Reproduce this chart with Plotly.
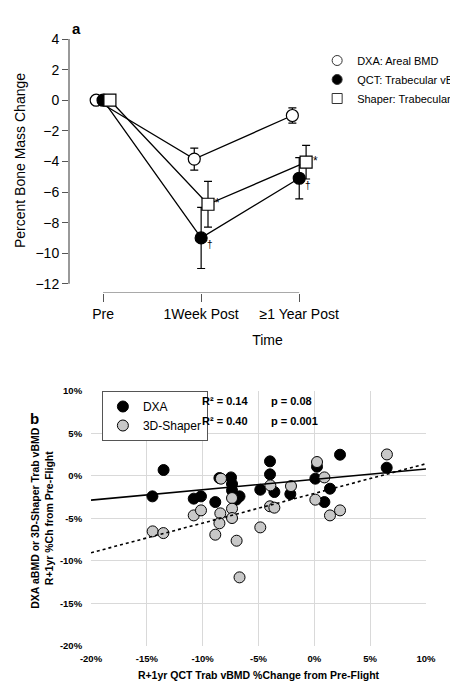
import numpy as np
import plotly.graph_objects as go

# ---- Panel a data ----
times = ["Pre", "1Week Post", "≥1 Year Post"]
dxa_mean = [0, -3.85, -1.0]
dxa_err = [0, 0.72, 0.5]
qct_mean = [0, -9.0, -5.1]
qct_err = [0, 2.0, 1.35]
shp_mean = [0, -6.8, -4.05]
shp_err = [0, 1.5, 1.1]
qct_marks = ["", "†", "†"]
shp_marks = ["", "*", "*"]

# ---- Panel b data ----
qct_x_dxa = [-14.5, -13.5, -10.8, -10.15, -8.87, -8.5, -7.46, -7.37, -7.37, -7.0, -6.7,
             -4.84, -3.97, -3.97, -3.58, -2.15, 0.09, 0.24, 0.9, 1.4, 2.3, 6.48]
dxa_y = [-2.43, 0.67, -2.7, -2.43, -3.1, -0.27, -0.2, -0.98, -1.73, -2.82, -2.43,
         -1.65, 1.69, 0.16, -1.92, -2.16, -0.35, 1.06, -3.1, -1.53, 2.47, 0.94]
qct_x_shp = [0.24, 6.5, 0.9, -8.36, -3.94, -2.09, -7.37, 0.09, -7.37, -3.97, -3.58, -10.8,
             -10.15, -8.42, -7.37, -8.5, 1.4, 2.3, -14.48, -13.52, -8.87, -4.84, -6.96, -6.7]
shp_y = [1.61, 2.5, -0.2, -0.35, -1.14, -1.22, -2.63, -2.82, -3.88, -3.6, -3.76, -4.67,
         -4.08, -4.43, -4.98, -5.6, -4.67, -4.08, -6.55, -6.75, -6.94, -6.08, -7.65, -11.96]

F = "Liberation Sans, Arial, sans-serif"
fig = go.Figure()
offs = [-0.07, 0.0, 0.07]
series = [("DXA: Areal BMD", dxa_mean, dxa_err, "circle", "white", offs[0]),
          ("QCT: Trabecular vBMD", qct_mean, qct_err, "circle", "black", offs[1]),
          ("Shaper: Trabecular vBMD", shp_mean, shp_err, "square", "white", offs[2])]
for name, m, e, sym, fill, o in series:
    xs = [i + o for i in range(3)]
    fig.add_trace(go.Scatter(
        x=xs, y=m, mode="lines+markers", name=name, showlegend=False,
        line=dict(color="black", width=1.3),
        marker=dict(symbol=sym, size=12, color=fill, line=dict(color="black", width=1.2)),
        error_y=dict(type="data", array=e, color="black", thickness=1.2, width=4),
        xaxis="x", yaxis="y"))
    fig.add_trace(go.Scatter(
        x=[None], y=[None], mode="markers", name=name, legend="legend",
        marker=dict(symbol=sym, size=10, color=fill, line=dict(color="#333", width=1)),
        xaxis="x", yaxis="y"))
for i in range(1, 3):
    fig.add_annotation(x=i + offs[1] + 0.09, y=qct_mean[i] - 0.45, text=qct_marks[i],
                       showarrow=False, xref="x", yref="y", font=dict(size=10, family=F, color="black"))
    fig.add_annotation(x=i + offs[2] + 0.1, y=shp_mean[i] + 0.1, text=shp_marks[i],
                       showarrow=False, xref="x", yref="y", font=dict(size=12, family=F, color="black"))

# Panel b
xs_fit = np.array([-20, 10])
for name, xv, yv, col in [("DXA", qct_x_dxa, dxa_y, "black"),
                          ("3D-Shaper", qct_x_shp, shp_y, "#c8c8c8")]:
    fig.add_trace(go.Scatter(x=xv, y=yv, mode="markers", name=name,
                             marker=dict(size=11, color=col, line=dict(color="black", width=1)),
                             xaxis="x2", yaxis="y2", legend="legend2"))
for xv, yv, dash in [(qct_x_dxa, dxa_y, "solid"), (qct_x_shp, shp_y, "dot")]:
    k, b = np.polyfit(xv, yv, 1)
    fig.add_trace(go.Scatter(x=xs_fit, y=k * xs_fit + b, mode="lines", showlegend=False,
                             line=dict(color="black", width=1.6, dash=dash),
                             xaxis="x2", yaxis="y2"))

for txt, x, y in [("<b>R² = 0.14</b>", 0.42, 1 - 393/685), ("<b>R² = 0.40</b>", 0.42, 1 - 413/685),
                  ("<b>p = 0.08</b>", 0.57, 1 - 393/685), ("<b>p = 0.001</b>", 0.57, 1 - 413/685)]:
    fig.add_annotation(xref="paper", yref="paper", x=x, y=y, text=txt, yanchor="middle",
                       showarrow=False, xanchor="left", font=dict(size=11, family=F, color="black"))

# panel letters
fig.add_annotation(xref="paper", yref="paper", x=62/458, y=1 - 10/685, text="<b>a</b>",
                   showarrow=False, font=dict(size=15, family=F, color="black"))
fig.add_annotation(xref="paper", yref="paper", x=20/458, y=1 - 410/685, text="<b>b</b>",
                   showarrow=False, font=dict(size=15, family=F, color="black"))

# axis lines panel a
fig.add_shape(type="line", xref="x", yref="y", x0=0, x1=2, y0=-12.6, y1=-12.6,
              line=dict(color="#555", width=1.2))
fig.add_shape(type="line", xref="x domain", yref="y", x0=0, x1=0, y0=-12, y1=4,
              line=dict(color="#555", width=1.2))

fig.update_layout(
    width=458, height=685, margin=dict(l=0, r=0, t=0, b=0, autoexpand=False),
    paper_bgcolor="white", plot_bgcolor="white",
    font=dict(family=F, color="black"),
    xaxis=dict(domain=[61/458, 1], range=[-0.347, 3.70], tickvals=[0, 1, 2], ticktext=times,
               showgrid=False, zeroline=False, ticks="outside", ticklen=8, tickcolor="#555",
               automargin=False, tickfont=dict(size=14),
               title=dict(text="Time", font=dict(size=14), standoff=14)),
    yaxis=dict(domain=[1 - 285/685, 1 - 20/685], range=[-12.6, 4.72], tickvals=list(range(-12, 5, 2)),
               ticktext=[str(v).replace("-", "−") for v in range(-12, 5, 2)], automargin=False,
               showgrid=False, zeroline=False, ticks="outside", ticklen=6, tickcolor="#555",
               tickfont=dict(size=14), title=dict(text="Percent Bone Mass Change", font=dict(size=14), standoff=6)),
    xaxis2=dict(domain=[83/458, 418/458], range=[-20, 10], anchor="y2", automargin=False,
                tickvals=list(range(-20, 11, 5)), ticktext=[f"<b>{v}%</b>" for v in range(-20, 11, 5)],
                showgrid=True, gridcolor="#d9d9d9", zeroline=False, tickfont=dict(size=9.5),
                ticks="outside", ticklen=4, tickcolor="white",
                title=dict(text="<b>R+1yr QCT Trab vBMD %Change from Pre-Flight</b>", font=dict(size=10.5), standoff=8)),
    yaxis2=dict(domain=[1 - 637.7/685, 1 - 382.7/685], range=[-20, 10], anchor="x2", automargin=False,
                tickvals=list(range(-20, 11, 5)), ticktext=[f"<b>{v}%</b>" for v in range(-20, 11, 5)],
                showgrid=True, gridcolor="#d9d9d9", zeroline=False, tickfont=dict(size=9.5),
                ticks="outside", ticklen=6, tickcolor="white",
                title=dict(text="<b>DXA aBMD or 3D-Shaper Trab vBMD<br>R+1yr %Ch from Pre-Flight</b>",
                           font=dict(size=10.5), standoff=4)),
    legend=dict(x=0.675, y=1 - 38/685, xanchor="left", yanchor="top", font=dict(size=11),
                tracegroupgap=0, bgcolor="rgba(0,0,0,0)", itemwidth=30),
    legend2=dict(x=0.205, y=1 - 383/685, xanchor="left", yanchor="top", font=dict(size=12),
                 bordercolor="#555", borderwidth=1, bgcolor="white",
                 entrywidth=200, entrywidthmode="pixels", tracegroupgap=0),
)
fig.write_html("out.html")
